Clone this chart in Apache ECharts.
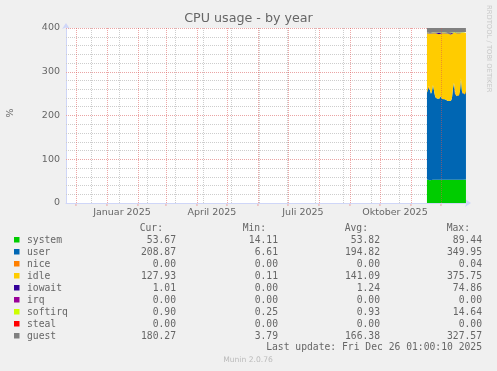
<!DOCTYPE html>
<html><head><meta charset="utf-8">
<script src="https://cdn.jsdelivr.net/npm/echarts@6/dist/echarts.min.js"></script>
<style>html,body{margin:0;padding:0;background:#f0f0f0}#c{width:497px;height:371px}</style>
</head><body><div id="c"></div><script>
// ---- data ----
const days = ['2025-11-17','2025-11-18','2025-11-19','2025-11-20','2025-11-21','2025-11-22','2025-11-23','2025-11-24','2025-11-25','2025-11-26',
  '2025-11-27','2025-11-28','2025-11-29','2025-11-30','2025-12-01','2025-12-02','2025-12-03','2025-12-04','2025-12-05','2025-12-06',
  '2025-12-07','2025-12-08','2025-12-09','2025-12-10','2025-12-11','2025-12-12','2025-12-13','2025-12-14','2025-12-15','2025-12-16',
  '2025-12-17','2025-12-18','2025-12-19','2025-12-20','2025-12-21','2025-12-22','2025-12-23','2025-12-24','2025-12-25','2025-12-26'];
const system = [54,55,53,52,56,55,53,54,52,53,55,54,53,52,54,53,55,54,53,52,54,53,55,54,53,54,52,53,55,54,53,54,52,53,54,55,53,54,53,54];
const user = [198,210,215,206,194,200,217,204,193,187,183,182,185,188,190,185,181,181,184,182,182,180,180,183,181,186,210,222,195,192,191,194,194,202,231,200,197,198,195,202];
const nice = [0,0,0,0,0,0,0,0,0,0,0,0,0,0,0,0,0,0,0,0,0,0,0,0,0,0,0,0,0,0,0,0,0,0,0,0,0,0,0,0];
const idle = [136,124,120,129,138,134,118,129,143,148,151,152,148,145,143,150,153,153,151,155,152,154,153,149,151,147,126,114,138,141,144,141,142,133,102,133,139,136,140,133];
const iowait = [0.8,0.7,0.8,0.9,0.6,0.7,0.8,0.7,0.7,0.9,0.8,0.7,2.5,3.0,0.8,0.7,0.8,0.6,0.7,0.8,0.7,0.9,0.7,2.8,3.2,0.8,0.7,0.8,0.7,0.7,0.6,0.7,0.8,0.7,0.9,0.8,0.7,0.8,0.7,0.7];
const irq = [0,0,0,0,0,0,0,0,0,0,0,0,0,0,0,0,0,0,0,0,0,0,0,0,0,0,0,0,0,0,0,0,0,0,0,0,0,0,0,0];
const softirq = [0.9,1.0,0.9,0.8,0.9,1.0,0.9,0.9,0.8,0.9,1.0,0.9,0.9,0.8,0.9,0.9,1.0,0.9,0.9,0.8,0.9,0.9,1.0,0.9,0.9,0.9,0.8,0.9,1.0,0.9,0.9,0.9,0.8,0.9,1.0,0.9,0.9,0.9,0.8,0.9];
const steal = [0,0,0,0,0,0,0,0,0,0,0,0,0,0,0,0,0,0,0,0,0,0,0,0,0,0,0,0,0,0,0,0,0,0,0,0,0,0,0,0];
const guest = [175,170,168,172,178,174,166,170,180,182,184,185,183,181,180,182,185,184,183,186,184,185,184,182,183,181,168,160,176,178,179,177,178,173,155,174,177,176,178,180];

const seriesNames = ['system','user','nice','idle','iowait','irq','softirq','steal','guest'];
const seriesValues = [system,user,nice,idle,iowait,irq,softirq,steal,guest];
const seriesColors = ['#00cc00','#0066b3','#ff8000','#ffcc00','#330099','#990099','#ccff00','#ff0000','#808080'];
const curVals = ['53.67','208.87','0.00','127.93','1.01','0.00','0.90','0.00','180.27'];
const minVals = ['14.11','6.61','0.00','0.11','0.00','0.00','0.25','0.00','3.79'];
const avgVals = ['53.82','194.82','0.00','141.09','1.24','0.00','0.93','0.00','166.38'];
const maxVals = ['89.44','349.95','0.04','375.75','74.86','0.00','14.64','0.00','327.57'];
const colHeads = ['Cur:','Min:','Avg:','Max:'];

const yMajor = [100,200,300,400];
const yMinor = [20,40,60,80,120,140,160,180,220,240,260,280,320,340,360,380];
const monthLines = ['2024-12-01','2025-01-01','2025-02-01','2025-03-01','2025-04-01','2025-05-01','2025-06-01',
  '2025-07-01','2025-08-01','2025-09-01','2025-10-01','2025-11-01','2025-12-01'];
const minorXLines = ['2024-12-16','2025-01-13','2025-02-10','2025-03-10','2025-04-07','2025-05-05','2025-06-02',
  '2025-06-30','2025-07-28','2025-08-25','2025-09-22','2025-10-20','2025-11-17','2025-12-15'];
const xLabelDates = ['2025-01-16','2025-04-16','2025-07-16','2025-10-16'];
const xLabelTexts = ['Januar 2025','April 2025','Juli 2025','Oktober 2025'];
const xStart = '2024-11-21T01:00:00Z';
const xEnd = '2025-12-26T01:00:00Z';

// ---- chart ----
const FONT = 'DejaVu Sans';
const MONO = 'DejaVu Sans Mono';
const TXT = '#666666';
const MAJ = '#eaa4a4';
const MIN = '#cdcdcd';
const ts = d => Date.parse(d);

const series = seriesNames.map((n, k) => ({
  name: n, type: 'line', stack: 'cpu', symbol: 'none', showSymbol: false, z: 3,
  color: seriesColors[k], lineStyle: { width: 0 },
  areaStyle: { color: seriesColors[k], opacity: 1 },
  data: days.map((d, i) => [ts(d), seriesValues[k][i]]),
  animation: false, silent: true
}));

const lowLines = [];
yMinor.forEach(v => lowLines.push({ yAxis: v, lineStyle: { color: MIN, type: [1, 1], width: 1 } }));
minorXLines.forEach(d => lowLines.push({ xAxis: ts(d), lineStyle: { color: MIN, type: [1, 1], width: 1 } }));
yMajor.forEach(v => lowLines.push({ yAxis: v, lineStyle: { color: MAJ, type: [1, 1], width: 1 } }));
const topLines = [];
monthLines.forEach(d => topLines.push({ xAxis: ts(d), lineStyle: { color: 'rgba(222,80,80,0.5)', type: [1, 1], width: 1 } }));

series.push({
  type: 'line', data: [], z: 1, silent: true, animation: false,
  markLine: { z: 1, silent: true, symbol: ['none', 'none'], label: { show: false }, animation: false, data: lowLines }
});
series.push({
  type: 'line', data: [], z: 10, silent: true, animation: false,
  markLine: { z: 10, silent: true, symbol: ['none', 'none'], label: { show: false }, animation: false, data: topLines }
});

const graphic = [];
graphic.push({ type: 'text', x: 248.5, y: 19, style: { text: 'CPU usage - by year', font: '12.7px ' + FONT, fill: TXT, align: 'center', verticalAlign: 'middle' } });
graphic.push({ type: 'text', x: 11, y: 113, rotation: Math.PI / 2, style: { text: '%', font: '9.5px ' + FONT, fill: TXT, align: 'center', verticalAlign: 'middle' } });
graphic.push({ type: 'text', x: 488.5, y: 5, rotation: -Math.PI / 2, style: { text: 'RRDTOOL / TOBI OETIKER', font: '6.8px ' + FONT, fill: '#c8c8c8', align: 'left', verticalAlign: 'middle' } });
const headX = [163, 266, 368, 470];
colHeads.forEach((h, j) => graphic.push({ type: 'text', x: headX[j], y: 228, style: { text: h, font: '9.7px ' + MONO, fill: TXT, align: 'right', verticalAlign: 'middle' } }));
const colX = [176, 278, 380, 482];
const cols = [curVals, minVals, avgVals, maxVals];
seriesNames.forEach((n, i) => {
  const y = 240 + 12 * i;
  graphic.push({ type: 'rect', shape: { x: 14, y: y - 3, width: 5.5, height: 5.5 }, style: { fill: seriesColors[i] } });
  graphic.push({ type: 'text', x: 27, y: y, style: { text: n, font: '9.7px ' + MONO, fill: TXT, align: 'left', verticalAlign: 'middle' } });
  cols.forEach((c, j) => graphic.push({ type: 'text', x: colX[j], y: y, style: { text: c[i], font: '9.7px ' + MONO, fill: TXT, align: 'right', verticalAlign: 'middle' } }));
});
graphic.push({ type: 'text', x: 482, y: 347.7, style: { text: 'Last update: Fri Dec 26 01:00:10 2025', font: '9.7px ' + MONO, fill: TXT, align: 'right', verticalAlign: 'middle' } });
graphic.push({ type: 'text', x: 248, y: 360, style: { text: 'Munin 2.0.76', font: '7.6px ' + FONT, fill: '#bbbbbb', align: 'center', verticalAlign: 'middle' } });

const chart = echarts.init(document.getElementById('c'), null, { renderer: 'canvas' });
chart.setOption({
  backgroundColor: '#f0f0f0',
  animation: false,
  grid: { left: 66, top: 28, width: 400, height: 175, show: true, backgroundColor: '#ffffff', borderWidth: 0 },
  xAxis: {
    type: 'time', min: ts(xStart), max: ts(xEnd),
    splitLine: { show: false },
    axisLine: { show: true, onZero: false, lineStyle: { color: '#cfd6f8', width: 1 }, symbol: ['none', 'arrow'], symbolSize: [6, 6], symbolOffset: [0, 5] },
    axisTick: { show: false },
    axisLabel: { show: false }
  },
  yAxis: {
    type: 'value', min: 0, max: 400, interval: 100,
    splitLine: { show: false },
    axisLine: { show: true, lineStyle: { color: '#cfd6f8', width: 1 }, symbol: ['none', 'arrow'], symbolSize: [6, 6], symbolOffset: [0, 5] },
    axisTick: { show: false },
    axisLabel: { margin: 6, color: TXT, fontFamily: FONT, fontSize: 9.5 }
  },
  series: series,
  graphic: graphic
});

// x-axis labels and month ticks, placed through the chart's own time scale
const extra = [];
const y0 = chart.convertToPixel({ yAxisIndex: 0 }, 0);
monthLines.forEach((d) => {
  const x = chart.convertToPixel({ xAxisIndex: 0 }, ts(d));
  extra.push({ type: 'line', shape: { x1: x, y1: y0, x2: x, y2: y0 + 3 }, style: { stroke: MAJ, lineWidth: 1 }, silent: true });
});
xLabelDates.forEach((d, i) => {
  const x = chart.convertToPixel({ xAxisIndex: 0 }, ts(d));
  extra.push({ type: 'text', x: x, y: y0 + 9.7, style: { text: xLabelTexts[i], font: '9.5px ' + FONT, fill: TXT, align: 'center', verticalAlign: 'middle' }, silent: true });
});
chart.setOption({ graphic: graphic.concat(extra) });
</script></body></html>
